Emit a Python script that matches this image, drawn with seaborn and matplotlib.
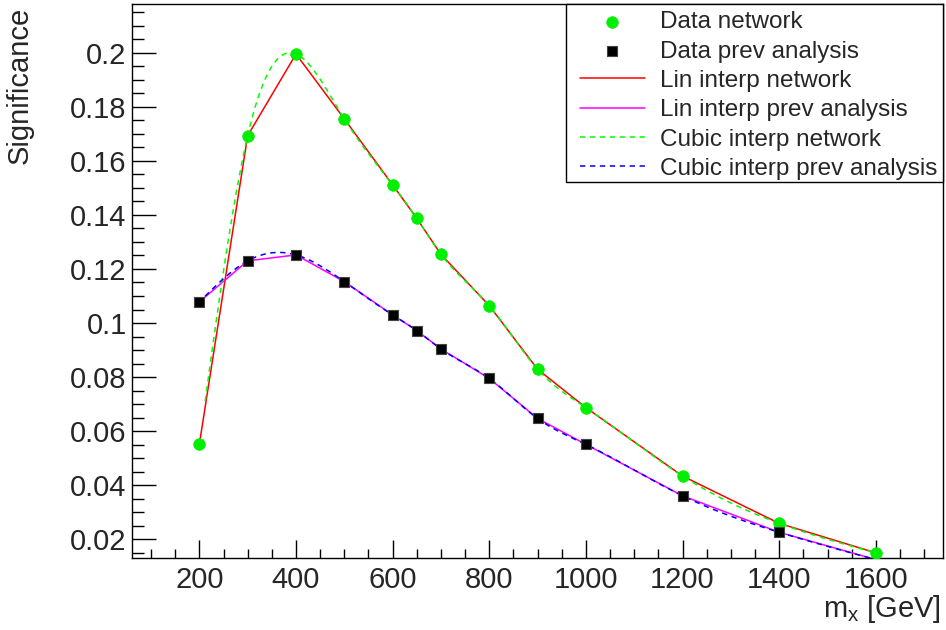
import numpy as np
import pandas as pd
import matplotlib
matplotlib.use("Agg")
import matplotlib.pyplot as plt
import seaborn as sns
from matplotlib.ticker import FixedLocator, MultipleLocator
from matplotlib.patches import Rectangle

# ---------------- data ----------------
mass = [200, 300, 400, 500, 600, 650, 700, 800, 900, 1000, 1200, 1400, 1600]
sig_network = [0.0552, 0.1693, 0.1995, 0.1755, 0.1511, 0.1387, 0.1254,
               0.1064, 0.0829, 0.0687, 0.0434, 0.0259, 0.0150]
sig_prev = [0.1078, 0.1230, 0.1252, 0.1153, 0.1030, 0.0972, 0.0904,
            0.0795, 0.0647, 0.0551, 0.0361, 0.0226, 0.0125]

x_ticks = [200, 400, 600, 800, 1000, 1200, 1400, 1600]
x_tick_labels = ["200", "400", "600", "800", "1000", "1200", "1400", "1600"]
y_ticks = [0.02, 0.04, 0.06, 0.08, 0.10, 0.12, 0.14, 0.16, 0.18, 0.20]
y_tick_labels = ["0.02", "0.04", "0.06", "0.08", "0.1", "0.12", "0.14",
                 "0.16", "0.18", "0.2"]

legend_labels = ["Data network", "Data prev analysis", "Lin interp network",
                 "Lin interp prev analysis", "Cubic interp network",
                 "Cubic interp prev analysis"]

XMIN, XMAX = 60, 1739
YMIN, YMAX = 0.0132, 0.218


def natural_cubic(x, y, xs):
    x = np.asarray(x, float)
    y = np.asarray(y, float)
    n = len(x)
    h = np.diff(x)
    A = np.zeros((n, n))
    r = np.zeros(n)
    A[0, 0] = 1
    A[-1, -1] = 1
    for i in range(1, n - 1):
        A[i, i - 1] = h[i - 1]
        A[i, i] = 2 * (h[i - 1] + h[i])
        A[i, i + 1] = h[i]
        r[i] = 3 * ((y[i + 1] - y[i]) / h[i] - (y[i] - y[i - 1]) / h[i - 1])
    c = np.linalg.solve(A, r)
    b = (y[1:] - y[:-1]) / h - h * (2 * c[:-1] + c[1:]) / 3
    d = (c[1:] - c[:-1]) / (3 * h)
    idx = np.clip(np.searchsorted(x, xs) - 1, 0, n - 2)
    dx = xs - x[idx]
    return y[idx] + b[idx] * dx + c[idx] * dx ** 2 + d[idx] * dx ** 3


df_net = pd.DataFrame({"mass": mass, "sig": sig_network})
df_prev = pd.DataFrame({"mass": mass, "sig": sig_prev})

xs = np.linspace(212, 1592, 500)
df_cub_net = pd.DataFrame({"mass": xs, "sig": natural_cubic(mass, sig_network, xs)})
df_cub_prev = pd.DataFrame({"mass": xs, "sig": natural_cubic(mass, sig_prev, xs)})

# ---------------- style ----------------
sns.set_theme(style="white")
plt.rcParams["font.family"] = ["Liberation Sans", "DejaVu Sans"]
plt.rcParams["mathtext.fontset"] = "custom"
plt.rcParams["mathtext.rm"] = "Liberation Sans"
plt.rcParams["mathtext.it"] = "Liberation Sans"

W, H = 946, 630
fig = plt.figure(figsize=(W / 100, H / 100), dpi=100)
fig.patch.set_facecolor("white")
L, R, T, B = 131.7, 943.0, 4.0, 557.7
ax = fig.add_axes([L / W, 1 - B / H, (R - L) / W, (B - T) / H])
ax.set_facecolor("white")

dash = (0, (3.5, 3))
sns.lineplot(data=df_net, x="mass", y="sig", color="#ff0000", lw=1.1,
             estimator=None, sort=False, ax=ax, label=legend_labels[2], zorder=2)
sns.lineplot(data=df_prev, x="mass", y="sig", color="#ff00ff", lw=1.1,
             estimator=None, sort=False, ax=ax, label=legend_labels[3], zorder=2)
sns.lineplot(data=df_cub_net, x="mass", y="sig", color="#00ff00", lw=1.1,
             linestyle=dash, estimator=None, sort=False, ax=ax,
             label=legend_labels[4], zorder=3)
sns.lineplot(data=df_cub_prev, x="mass", y="sig", color="#0000ff", lw=1.1,
             linestyle=dash, estimator=None, sort=False, ax=ax,
             label=legend_labels[5], zorder=3)

sns.scatterplot(data=df_net[df_net.sig >= YMIN], x="mass", y="sig", marker="o",
                s=70, color="#00ee00", edgecolor="#00ee00", linewidth=0.5,
                ax=ax, label=legend_labels[0], zorder=4)
sns.scatterplot(data=df_prev[df_prev.sig >= YMIN], x="mass", y="sig", marker="s",
                s=62, color="#000000", edgecolor="#444444", linewidth=0.8,
                ax=ax, label=legend_labels[1], zorder=4)

ax.set_xlim(XMIN, XMAX)
ax.set_ylim(YMIN, YMAX)

ax.xaxis.set_major_locator(FixedLocator(x_ticks))
ax.set_xticklabels(x_tick_labels)
ax.xaxis.set_minor_locator(MultipleLocator(50))
ax.yaxis.set_major_locator(FixedLocator(y_ticks))
ax.set_yticklabels(y_tick_labels)
ax.yaxis.set_minor_locator(MultipleLocator(0.005))

ax.tick_params(axis="y", which="major", direction="in", length=17.3, width=1.0,
               pad=3.6, labelsize=21, color="black", left=True, right=False)
ax.tick_params(axis="y", which="minor", direction="in", length=8.4, width=1.0,
               color="black", left=True, right=False)
ax.tick_params(axis="x", which="major", direction="in", length=12.7, width=1.0,
               pad=6, labelsize=21, color="black", bottom=True, top=False)
ax.tick_params(axis="x", which="minor", direction="in", length=6.7, width=1.0,
               color="black", bottom=True, top=False)

for s in ax.spines.values():
    s.set_visible(True)
    s.set_color("black")
    s.set_linewidth(1.0)

ax.set_ylabel("Significance", fontsize=21, loc="top")
ax.yaxis.set_label_coords((34 - L) / (R - L), 1 - 3 / (B - T))
ax.set_xlabel(r"m$_{\mathrm{x}}$ [GeV]", fontsize=21, loc="right")
ax.xaxis.set_label_coords((941 - L) / (R - L), -(593 - B) / (B - T))

# legend frame (ROOT-style box)
box = Rectangle((566 / W, 1 - 182 / H), (943 - 566) / W, (182 - 4) / H,
                transform=fig.transFigure, facecolor="white", edgecolor="black",
                linewidth=1.0, zorder=6, clip_on=False)
ax.add_patch(box)

handles, labels = ax.get_legend_handles_labels()
hmap = dict(zip(labels, handles))
bp = 0.3
pad_px = bp * 17.5 * 100 / 72
leg = ax.legend([hmap[l] for l in legend_labels], legend_labels,
                loc="upper left",
                bbox_to_anchor=((580 - pad_px - L) / (R - L), 1.0),
                borderaxespad=0, fontsize=17.5, frameon=False,
                handlelength=2.67, handletextpad=0.62, labelspacing=0.30,
                borderpad=bp, markerscale=1.0)
leg.set_zorder(7)

fig.savefig("out.png", dpi=100, facecolor="white")
